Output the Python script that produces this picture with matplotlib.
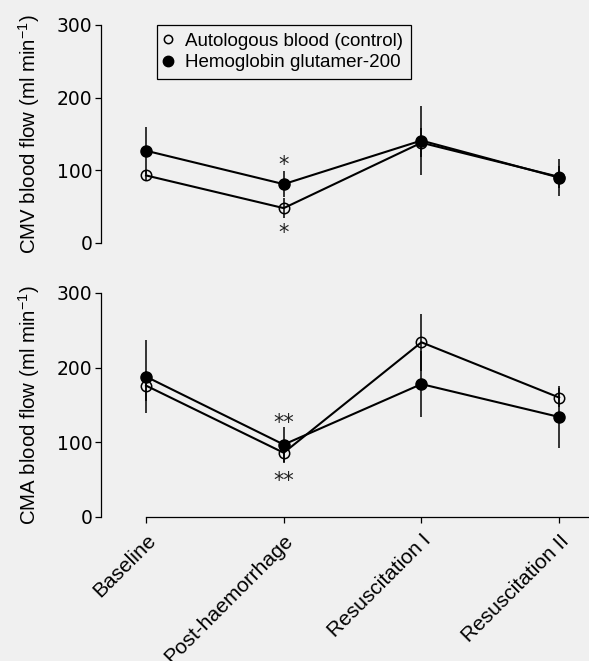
import matplotlib
matplotlib.use("Agg")
import matplotlib.pyplot as plt
from matplotlib.lines import Line2D

plt.rcParams['font.family'] = ['Liberation Sans', 'DejaVu Sans']
plt.rcParams['mathtext.fontset'] = 'custom'
plt.rcParams['mathtext.rm'] = 'Liberation Sans'
plt.rcParams['mathtext.it'] = 'Liberation Sans'

# ---- data ----
categories = ["Baseline", "Post-haemorrhage", "Resuscitation I", "Resuscitation II"]
series_names = ["Autologous blood (control)", "Hemoglobin glutamer-200"]

cmv_control = [93, 48, 138, 91]
cmv_control_err = [6, 14, 20, 15]
cmv_hbg = [127, 81, 141, 90]
cmv_hbg_err = [32, 18, 47, 26]

cma_control = [176, 86, 234, 160]
cma_control_err = [20, 14, 38, 13]
cma_hbg = [188, 97, 178, 134]
cma_hbg_err = [49, 24, 44, 41]

# significance marks: (category index, y value, text)
cmv_marks = [(1, 99, "*"), (1, 5, "*")]
cma_marks = [(1, 118, "**"), (1, 40, "**")]

yticks = [0, 100, 200, 300]
ylabel_cmv = r"CMV blood flow (ml min$^{-1}$)"
ylabel_cma = r"CMA blood flow (ml min$^{-1}$)"

# ---- figure ----
bg = "#f0f0f0"
W, H = 589, 661
fig = plt.figure(figsize=(W / 100, H / 100), dpi=100, facecolor=bg)
left_px, right_px = 101, 589
ax1 = fig.add_axes([left_px / W, 1 - 243 / H, (right_px - left_px) / W, 218 / H])
ax2 = fig.add_axes([left_px / W, 1 - 517 / H, (right_px - left_px) / W, 224 / H])

x = list(range(len(categories)))
xlim = (-0.327, 3.217)

def draw(ax, ctrl, ctrl_err, hbg, hbg_err, marks, ylabel):
    ax.set_facecolor(bg)
    ax.errorbar(x, ctrl, yerr=ctrl_err, fmt='-o', color='black', mfc='none',
                mec='black', mew=1.1, ms=7.5, lw=1.5, elinewidth=1.1,
                capsize=0, clip_on=False, zorder=3)
    ax.errorbar(x, hbg, yerr=hbg_err, fmt='-o', color='black', mfc='black',
                mec='black', ms=8, lw=1.5, elinewidth=1.1,
                capsize=0, clip_on=False, zorder=3)
    for xi, yv, s in marks:
        ax.text(x[xi], yv, s, ha='center', va='baseline', fontsize=15,
                family='DejaVu Sans', color='#222222')
    ax.set_xlim(*xlim)
    ax.set_ylim(0, 300)
    ax.set_yticks(yticks)
    ax.set_yticklabels([str(t) for t in yticks], fontsize=13.5,
                       family='DejaVu Sans')
    ax.spines['top'].set_visible(False)
    ax.spines['right'].set_visible(False)
    ax.spines['left'].set_linewidth(0.9)
    ax.tick_params(axis='y', direction='out', length=4, width=0.9, pad=2)
    ax.set_ylabel(ylabel, fontsize=14.7)
    ax.yaxis.set_label_coords(-0.12, 0.5)

draw(ax1, cmv_control, cmv_control_err, cmv_hbg, cmv_hbg_err, cmv_marks, ylabel_cmv)
draw(ax2, cma_control, cma_control_err, cma_hbg, cma_hbg_err, cma_marks, ylabel_cma)

ax1.spines['bottom'].set_visible(False)
ax1.set_xticks([])

ax2.spines['bottom'].set_bounds(0, xlim[1])
ax2.spines['bottom'].set_linewidth(0.9)
ax2.set_xticks(x)
ax2.set_xticklabels(categories, rotation=45, ha='right', va='top',
                    rotation_mode='anchor', fontsize=15)
ax2.tick_params(axis='x', direction='out', length=4, width=0.9, pad=6)

handles = [
    Line2D([], [], ls='none', marker='o', mfc='none', mec='black', mew=1.1, ms=6),
    Line2D([], [], ls='none', marker='o', mfc='black', mec='black', ms=7.5),
]
leg = ax1.legend(handles, series_names, loc='upper left',
                 bbox_to_anchor=(0.115, 1.0), frameon=True, fancybox=False,
                 edgecolor='black', facecolor=bg, framealpha=1,
                 fontsize=13.5, handlelength=0.4, handletextpad=0.7,
                 labelspacing=0.25, borderpad=0.4, borderaxespad=0)
leg.get_frame().set_linewidth(0.9)

fig.savefig("out.png", dpi=100, facecolor=bg)
